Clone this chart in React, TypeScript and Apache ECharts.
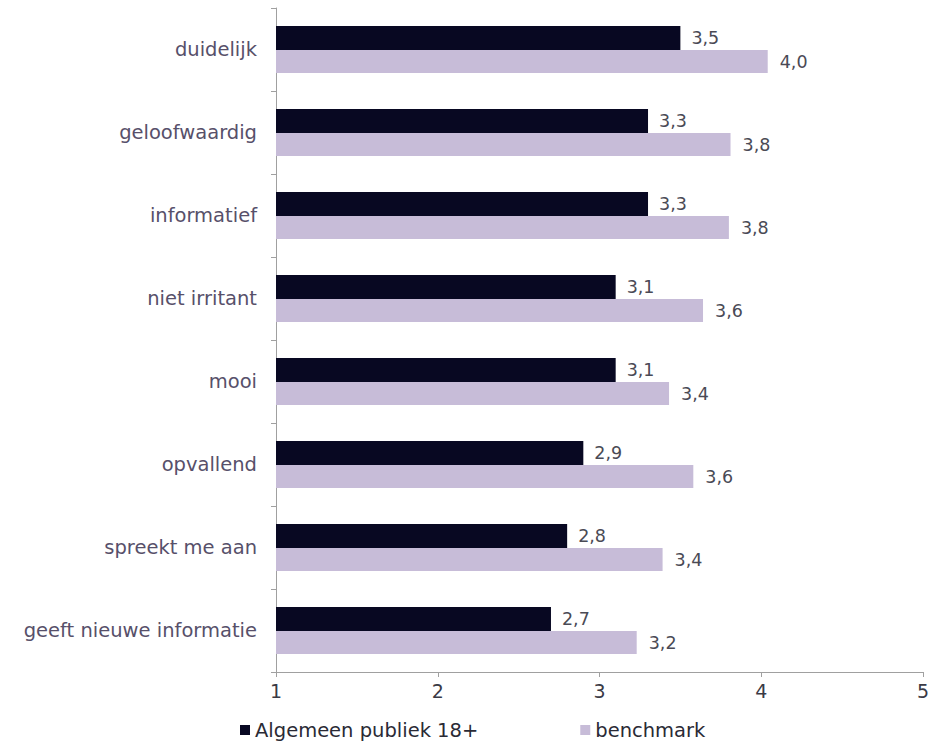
import React, { useEffect, useRef } from "react";
import * as echarts from "echarts";

const categories = [
  "duidelijk",
  "geloofwaardig",
  "informatief",
  "niet irritant",
  "mooi",
  "opvallend",
  "spreekt me aan",
  "geeft nieuwe informatie",
];
const publiekValues = [3.5, 3.3, 3.3, 3.1, 3.1, 2.9, 2.8, 2.7];
const benchmarkValues = [4.04, 3.81, 3.8, 3.64, 3.43, 3.58, 3.39, 3.23];
const seriesNames = ["Algemeen publiek 18+", "benchmark"];
const xTicks = [1, 2, 3, 4, 5];

const FONT = "'DejaVu Sans', Arial, sans-serif";
const fmt = (v: number) => v.toFixed(1).replace(".", ",");

export default function App() {
  const ref = useRef<HTMLDivElement>(null);
  useEffect(() => {
    if (!ref.current) return;
    const chart = echarts.init(ref.current, undefined, { renderer: "svg" });
    chart.setOption({
      animation: false,
      backgroundColor: "#ffffff",
      textStyle: { fontFamily: FONT },
      grid: { left: 276, right: 18, top: 8, bottom: 71, containLabel: false },
      legend: {
        data: seriesNames,
        left: 240,
        top: 720,
        padding: 0,
        itemWidth: 10,
        itemHeight: 10,
        itemGap: 102,
        icon: "rect",
        textStyle: { fontSize: 19.5, lineHeight: 20, color: "#2a2a35", fontFamily: FONT },
      },
      xAxis: {
        type: "value",
        min: xTicks[0],
        max: xTicks[xTicks.length - 1],
        interval: 1,
        axisLine: { show: true, lineStyle: { color: "#a0a0a0", width: 1 } },
        axisTick: { show: true, length: 5, inside: false, lineStyle: { color: "#a0a0a0" } },
        splitLine: { show: false },
        axisLabel: { fontSize: 19, color: "#3a3a45", margin: 9, fontFamily: FONT },
      },
      yAxis: {
        type: "category",
        data: categories,
        inverse: true,
        axisLine: { show: true, lineStyle: { color: "#a0a0a0", width: 1 } },
        axisTick: { show: true, length: 5, lineStyle: { color: "#a0a0a0" } },
        axisLabel: { fontSize: 19.5, color: "#57506a", margin: 19, fontFamily: FONT },
      },
      series: [
        {
          name: seriesNames[0],
          type: "bar",
          data: publiekValues,
          barWidth: 24,
          barGap: "0%",
          itemStyle: { color: "#080822" },
          label: {
            show: true,
            position: "right",
            distance: 11,
            fontSize: 17.5,
            color: "#4a4a55",
            fontFamily: FONT,
            formatter: (p: any) => fmt(p.value),
          },
        },
        {
          name: seriesNames[1],
          type: "bar",
          data: benchmarkValues,
          barWidth: 23,
          itemStyle: { color: "#c7bcd8" },
          label: {
            show: true,
            position: "right",
            distance: 12,
            fontSize: 17.5,
            color: "#4a4a55",
            fontFamily: FONT,
            formatter: (p: any) => fmt(p.value),
          },
        },
      ],
    });
    return () => chart.dispose();
  }, []);
  return <div ref={ref} style={{ width: 941, height: 743, position: "absolute", left: 0, top: 0 }} />;
}
